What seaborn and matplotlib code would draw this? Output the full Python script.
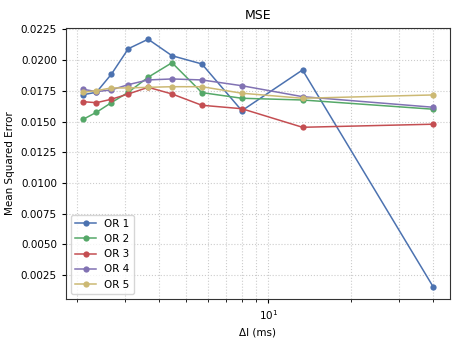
import matplotlib
matplotlib.use("Agg")
import matplotlib.pyplot as plt
import seaborn as sns
import pandas as pd

delta_ms = [2.105, 2.353, 2.667, 3.077, 3.636, 4.444, 5.714, 8.0, 13.33, 40.0]
series_names = ["OR 1", "OR 2", "OR 3", "OR 4", "OR 5"]
or1 = [0.01718, 0.01738, 0.01884, 0.02092, 0.02169, 0.02035, 0.01968, 0.01588, 0.01919, 0.00157]
or2 = [0.01518, 0.01575, 0.01653, 0.01738, 0.01860, 0.01978, 0.01735, 0.01689, 0.01675, 0.01600]
or3 = [0.01661, 0.01653, 0.01681, 0.01724, 0.01778, 0.01724, 0.01632, 0.01604, 0.01453, 0.01478]
or4 = [0.01762, 0.01743, 0.01757, 0.01800, 0.01838, 0.01846, 0.01838, 0.01791, 0.01702, 0.01616]
or5 = [0.01738, 0.01751, 0.01773, 0.01773, 0.01778, 0.01783, 0.01783, 0.01730, 0.01689, 0.01716]

rows = []
for name, vals in zip(series_names, [or1, or2, or3, or4, or5]):
    for x, y in zip(delta_ms, vals):
        rows.append({"dI": x, "mse": y, "series": name})
df = pd.DataFrame(rows)

plt.rcParams['font.family'] = ['DejaVu Sans']
fig = plt.figure(figsize=(4.61, 3.46), dpi=100)
ax = fig.add_axes([0.143, 0.136, 0.833, 0.784])
palette = sns.color_palette("deep6", 5)
sns.lineplot(data=df, x="dI", y="mse", hue="series", palette=palette,
             marker="o", markersize=4.5, markeredgewidth=0, linewidth=1.1,
             ax=ax, legend=True)
ax.set_xscale("log")
ax.grid(True, which="both", linestyle=":", color="#cccccc", linewidth=0.8)
ax.set_axisbelow(True)
ax.set_title("MSE", fontsize=9)
ax.set_xlabel("ΔI (ms)", fontsize=7.5)
ax.set_ylabel("Mean Squared Error", fontsize=7.5)
ax.tick_params(labelsize=7.5, length=3)
ax.set_yticks([0.0025, 0.0050, 0.0075, 0.0100, 0.0125, 0.0150, 0.0175, 0.0200, 0.0225])
ax.set_yticklabels([f"{v:.4f}" for v in ax.get_yticks()])
ax.set_xlim(1.82, 46.1)
ax.set_ylim(0.00057, 0.02263)
for s in ax.spines.values():
    s.set_color("#333333")
leg = ax.legend(loc="lower left", fontsize=7.5, frameon=True, handlelength=2.0)
fig.savefig("out.png", dpi=100)
